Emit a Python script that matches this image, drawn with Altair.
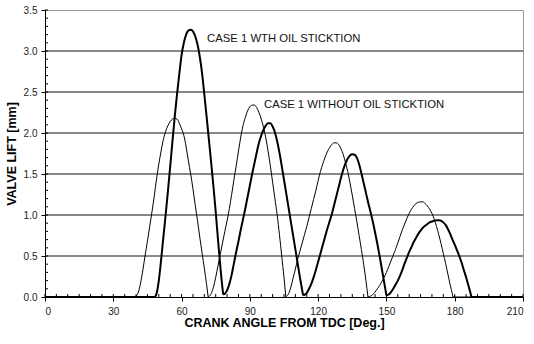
import altair as alt
import pandas as pd

# Case 1 without oil stiction (thin line): crank angle [deg] and valve lift [mm]
thin_angle = [
    0, 39.5, 40, 41, 42, 43, 44, 45, 46, 47, 48, 49, 50, 51, 52, 53, 54, 55, 56, 57, 58, 59,
    60, 61, 62, 63, 64, 65, 66, 67, 68, 69, 70, 71, 71.7,
    72, 73, 74, 75, 76, 77, 78, 79, 80, 81, 82, 83, 84, 85, 86, 87, 88, 89, 90, 91, 92, 93,
    94, 95, 96, 97, 98, 99, 100, 101, 102, 103, 104, 105, 105.8,
    106, 107, 108, 109, 110, 111, 112, 113, 114, 115, 116, 117, 118, 119, 120, 121, 122, 123,
    124, 125, 126, 127, 128, 129, 130, 131, 132, 133, 134, 135, 136, 137, 138, 139, 140, 141,
    141.9,
    142, 143, 144, 145, 146, 147, 148, 149, 150, 151, 152, 153, 154, 155, 156, 157, 158, 159,
    160, 161, 162, 163, 164, 165, 166, 167, 168, 169, 170, 171, 172, 173, 174, 175, 176, 177,
    178, 179, 179.2, 210,
]
thin_lift = [
    0, 0, 0.01, 0.06, 0.17, 0.33, 0.51, 0.68, 0.86, 1.04, 1.23, 1.44, 1.62, 1.78, 1.92, 2.02,
    2.09, 2.14, 2.17, 2.18, 2.17, 2.12, 2.05, 1.97, 1.83, 1.66, 1.5, 1.32, 1.12, 0.93, 0.73,
    0.54, 0.35, 0.15, 0,
    0.005, 0.04, 0.12, 0.24, 0.38, 0.52, 0.66, 0.8, 0.93, 1.08, 1.25, 1.43, 1.6, 1.78, 1.95,
    2.09, 2.19, 2.27, 2.32, 2.34, 2.34, 2.31, 2.25, 2.17, 2.07, 1.94, 1.78, 1.6, 1.4, 1.2, 1.0,
    0.76, 0.5, 0.24, 0,
    0.005, 0.04, 0.12, 0.23, 0.34, 0.46, 0.56, 0.66, 0.76, 0.86, 0.97, 1.08, 1.19, 1.3, 1.42,
    1.53, 1.62, 1.7, 1.77, 1.82, 1.86, 1.88, 1.88, 1.86, 1.81, 1.74, 1.64, 1.53, 1.39, 1.24,
    1.08, 0.92, 0.75, 0.58, 0.4, 0.2, 0,
    0.002, 0.01, 0.03, 0.06, 0.1, 0.14, 0.19, 0.24, 0.3, 0.37, 0.44, 0.51, 0.58, 0.66, 0.74,
    0.82, 0.89, 0.96, 1.02, 1.07, 1.11, 1.14, 1.155, 1.16, 1.16, 1.14, 1.11, 1.07, 1.02, 0.95,
    0.86, 0.76, 0.65, 0.53, 0.41, 0.28, 0.15, 0.03, 0, 0,
]

# Case 1 with oil stiction (thick line)
thick_angle = [
    0, 48.3,
    49, 50, 51, 52, 53, 54, 55, 56, 57, 58, 59, 60, 61, 62, 63, 64, 65, 66, 67, 68, 69, 70,
    71, 72, 73, 74, 75, 76, 77, 78, 78.3,
    79, 80, 81, 82, 83, 84, 85, 86, 87, 88, 89, 90, 91, 92, 93, 94, 95, 96, 97, 98, 99, 100,
    101, 102, 103, 104, 105, 106, 107, 108, 109, 110, 111, 112, 113, 113.4,
    114, 115, 116, 117, 118, 119, 120, 121, 122, 123, 124, 125, 126, 127, 128, 129, 130, 131,
    132, 133, 134, 135, 136, 137, 138, 139, 140, 141, 142, 143, 144, 145, 146, 147, 148, 149,
    150,
    151, 152, 153, 154, 155, 156, 157, 158, 159, 160, 161, 162, 163, 164, 165, 166, 167, 168,
    169, 170, 171, 172, 173, 174, 175, 176, 177, 178, 179, 180, 181, 182, 183, 184, 185, 186,
    187, 187.3, 210,
]
thick_lift = [
    0, 0,
    0.04, 0.2, 0.45, 0.73, 1.0, 1.29, 1.59, 1.9, 2.2, 2.47, 2.72, 2.95, 3.1, 3.2, 3.25, 3.26,
    3.24, 3.18, 3.08, 2.93, 2.73, 2.47, 2.2, 1.92, 1.64, 1.35, 1.04, 0.7, 0.38, 0.1, 0.03,
    0.04, 0.08, 0.16, 0.27, 0.41, 0.55, 0.68, 0.82, 0.95, 1.08, 1.22, 1.36, 1.5, 1.63, 1.76,
    1.88, 1.97, 2.04, 2.09, 2.12, 2.12, 2.08, 2.01, 1.9, 1.76, 1.6, 1.43, 1.26, 1.09, 0.92,
    0.75, 0.58, 0.41, 0.24, 0.08, 0.02,
    0.025, 0.05, 0.1, 0.16, 0.24, 0.33, 0.43, 0.53, 0.63, 0.73, 0.83, 0.92, 1.01, 1.12, 1.23,
    1.34, 1.45, 1.55, 1.63, 1.69, 1.725, 1.74, 1.735, 1.7, 1.62, 1.51, 1.39, 1.27, 1.15, 1.04,
    0.92, 0.79, 0.65, 0.5, 0.34, 0.18, 0.02,
    0.03, 0.06, 0.1, 0.15, 0.2, 0.26, 0.33, 0.41, 0.48, 0.55, 0.61, 0.67, 0.72, 0.77, 0.81,
    0.845, 0.87, 0.89, 0.91, 0.92, 0.93, 0.935, 0.935, 0.93, 0.91, 0.88, 0.83, 0.77, 0.7, 0.64,
    0.57, 0.5, 0.42, 0.33, 0.24, 0.14, 0.04, 0, 0,
]

# Annotations
note_text = ["CASE 1 WTH OIL STICKTION", "CASE 1 WITHOUT OIL STICKTION"]
note_angle = [71.2, 96.2]
note_lift = [3.15, 2.34]

# Axis ticks and grid
x_major = [0, 30, 60, 90, 120, 150, 180, 210]
y_major = [0.0, 0.5, 1.0, 1.5, 2.0, 2.5, 3.0, 3.5]
grid_lift = [0.5, 1.0, 1.5, 2.0, 2.5, 3.0]
x_minor = list(range(0, 211, 5))
y_minor = [i / 10 for i in range(0, 36)]

W, H = 478, 287
FONT = "Liberation Sans"
X_TITLE = "CRANK ANGLE FROM TDC [Deg.]"
Y_TITLE = "VALVE LIFT [mm]"


def split_lifts(angles, lifts):
    """One line segment per valve event: a new segment starts at every
    closing point (local minimum), so the closing corners stay sharp."""
    assert len(angles) == len(lifts)
    rows, seg = [], 0
    n = len(angles)
    for i, (a, v) in enumerate(zip(angles, lifts)):
        rows.append({"angle": a, "lift": v, "seg": seg})
        if 0 < i < n - 1:
            lo, hi = lifts[i - 1], lifts[i + 1]
            if v <= lo and v <= hi and (v < lo or v < hi):
                seg += 1
                rows.append({"angle": a, "lift": v, "seg": seg})
    return pd.DataFrame(rows)


xs = alt.Scale(domain=[0, 210], nice=False, zero=False)
ys = alt.Scale(domain=[0, 3.5], nice=False, zero=True)

x_axis = alt.Axis(values=x_major, format="d", title=X_TITLE, grid=False,
                  domainColor="#000", tickColor="#000", tickSize=4,
                  labelPadding=5, labelFontSize=10, labelColor="#222", labelFont=FONT,
                  titleFont=FONT, titleFontSize=12.5, titleFontWeight="bold",
                  titleColor="#000", titlePadding=0)
y_axis = alt.Axis(values=y_major, format=".1f", title=Y_TITLE, grid=False,
                  domainColor="#000", tickColor="#000", tickSize=4,
                  labelPadding=4, labelFontSize=10, labelColor="#222", labelFont=FONT,
                  titleFont=FONT, titleFontSize=12.5, titleFontWeight="bold",
                  titleColor="#000", titlePadding=5)

thin_df = split_lifts(thin_angle, thin_lift)
thick_df = split_lifts(thick_angle, thick_lift)
note_df = pd.DataFrame({"angle": note_angle, "lift": note_lift, "text": note_text})

grid = alt.Chart(pd.DataFrame({"lift": grid_lift})).mark_rule(
    color="#111", strokeWidth=1
).encode(y=alt.Y("lift:Q", scale=ys, axis=y_axis))

minor_x = alt.Chart(pd.DataFrame({"angle": x_minor})).mark_rule(
    color="#000", strokeWidth=1
).encode(x=alt.X("angle:Q", scale=xs, axis=x_axis),
         y=alt.value(H), y2=alt.value(H - 3))

minor_y = alt.Chart(pd.DataFrame({"lift": y_minor})).mark_rule(
    color="#000", strokeWidth=1
).encode(y=alt.Y("lift:Q", scale=ys, axis=y_axis),
         x=alt.value(0), x2=alt.value(3))

thin = alt.Chart(thin_df).mark_line(
    color="#000", strokeWidth=1, interpolate="monotone"
).encode(x=alt.X("angle:Q", scale=xs, axis=x_axis),
         y=alt.Y("lift:Q", scale=ys, axis=y_axis),
         detail="seg:N")

thick = alt.Chart(thick_df).mark_line(
    color="#000", strokeWidth=2, interpolate="monotone"
).encode(x=alt.X("angle:Q", scale=xs, axis=x_axis),
         y=alt.Y("lift:Q", scale=ys, axis=y_axis),
         detail="seg:N")

notes = alt.Chart(note_df).mark_text(
    align="left", baseline="middle", font=FONT, fontSize=11.3, color="#111"
).encode(x=alt.X("angle:Q", scale=xs, axis=x_axis),
         y=alt.Y("lift:Q", scale=ys, axis=y_axis),
         text="text:N")

chart = alt.layer(grid, minor_x, minor_y, thin, thick, notes).properties(
    width=W, height=H,
    autosize=alt.AutoSizeParams(type="none"),
    padding={"left": 45, "top": 10, "right": 11, "bottom": 47},
    background="white",
).configure_view(stroke="#9a9a9a", strokeWidth=1)

chart.save("out.html", embed_options={"renderer": "svg", "actions": False})
